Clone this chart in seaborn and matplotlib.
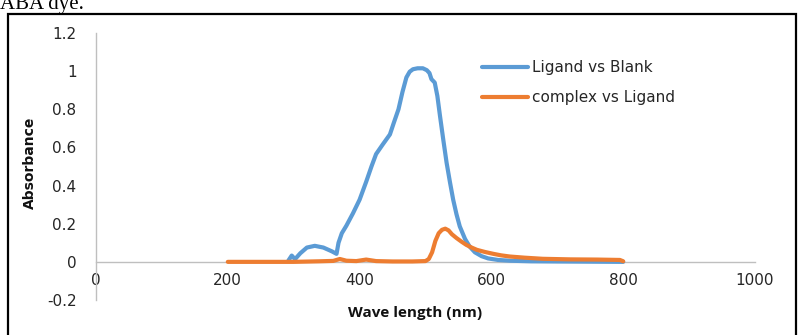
import matplotlib
matplotlib.use("Agg")
import matplotlib.pyplot as plt
import seaborn as sns
import pandas as pd
from matplotlib.patches import Rectangle

# ---- data ----
ligand_x = [292, 297, 302, 310, 320, 332, 345, 358, 365, 368, 373, 380, 390, 400, 410, 418, 425, 435, 446, 452,
            459, 465, 471, 476, 481, 488, 496, 502, 506, 509, 514, 518, 522, 527, 532, 537, 542, 547, 552, 560,
            567, 575, 585, 595, 610, 628, 660, 700, 750, 800]
ligand_y = [0.007, 0.033, 0.014, 0.045, 0.075, 0.084, 0.075, 0.055, 0.042, 0.10, 0.15, 0.19, 0.255, 0.326, 0.42,
            0.50, 0.565, 0.615, 0.668, 0.73, 0.80, 0.89, 0.967, 0.997, 1.01, 1.015, 1.015, 1.005, 0.99, 0.958,
            0.94, 0.87, 0.765, 0.64, 0.52, 0.42, 0.326, 0.25, 0.186, 0.12, 0.08, 0.05, 0.03, 0.018, 0.01,
            0.006, 0.003, 0.002, 0.001, 0.0]

complex_x = [200, 250, 300, 340, 360, 370, 380, 395, 410, 425, 450, 480, 500, 505, 510, 515, 520, 525, 530,
             535, 540, 547, 555, 562, 570, 578, 590, 603, 615, 628, 650, 678, 720, 760, 795, 800]
complex_y = [0.0, 0.0, 0.0, 0.003, 0.005, 0.015, 0.006, 0.004, 0.012, 0.004, 0.002, 0.002, 0.004, 0.015, 0.05,
             0.11, 0.15, 0.168, 0.174, 0.165, 0.145, 0.125, 0.105, 0.089, 0.075, 0.063, 0.052, 0.042, 0.034,
             0.028, 0.022, 0.016, 0.013, 0.012, 0.01, 0.003]

series_names = ["Ligand vs Blank", "complex vs Ligand"]
x_ticks = [0, 200, 400, 600, 800, 1000]
y_ticks = [-0.2, 0, 0.2, 0.4, 0.6, 0.8, 1, 1.2]
y_tick_labels = ["-0.2", "0", "0.2", "0.4", "0.6", "0.8", "1", "1.2"]

df = pd.concat([
    pd.DataFrame({"x": ligand_x, "y": ligand_y, "series": series_names[0]}),
    pd.DataFrame({"x": complex_x, "y": complex_y, "series": series_names[1]}),
], ignore_index=True)

sns.set_theme(style="white")
plt.rcParams["font.family"] = ["DejaVu Sans"]

W, H = 798, 335
fig = plt.figure(figsize=(W / 100, H / 100), dpi=100)
ax = fig.add_axes([96 / W, 35 / H, (755 - 96) / W, (300 - 33) / H])

palette = {series_names[0]: "#5B9BD5", series_names[1]: "#ED7D31"}
sns.lineplot(data=df, x="x", y="y", hue="series", palette=palette, linewidth=3.0,
             sort=False, estimator=None, ax=ax, legend=True)
for ln in ax.get_lines():
    ln.set_solid_joinstyle("round")
    ln.set_solid_capstyle("round")

ax.set_xlim(0, 1000)
ax.set_ylim(-0.2, 1.2)
ax.set_xticks(x_ticks)
ax.set_xticklabels([str(t) for t in x_ticks])
ax.set_yticks(y_ticks)
ax.set_yticklabels(y_tick_labels)

grey = "#BFBFBF"
for s in ["top", "right"]:
    ax.spines[s].set_visible(False)
ax.spines["left"].set_color(grey)
ax.spines["left"].set_linewidth(1)
ax.spines["bottom"].set_position(("data", 0))
ax.spines["bottom"].set_color(grey)
ax.spines["bottom"].set_linewidth(1)
ax.spines["bottom"].set_zorder(0)

ax.tick_params(axis="x", length=0, pad=8, labelsize=11, colors="#262626")
ax.tick_params(axis="y", length=0, pad=14, labelsize=11, colors="#262626")
ax.grid(False)

ax.set_xlabel("")
ax.set_ylabel("")
fig.text(415 / W, 1 - 313 / H, "Wave length (nm)", ha="center", va="center",
         fontsize=11, fontweight="bold", color="#111111",
         family=["Open Sans", "DejaVu Sans"])
fig.text(30 / W, 1 - 163 / H, "Absorbance", ha="center", va="center", rotation=90,
         fontsize=10, fontweight="bold", color="#111111")

leg = ax.legend(loc="center left", bbox_to_anchor=(482 / W, 1 - 82.5 / H),
                bbox_transform=fig.transFigure, frameon=False,
                fontsize=11, handlelength=3.0, handletextpad=0.25, labelspacing=1.0,
                borderaxespad=0, borderpad=0)
for line in leg.get_lines():
    line.set_linewidth(3.0)

# page frame and cut-off caption
fig.add_artist(Rectangle((8 / W, -0.1), (796 - 8) / W, (0.1 + 1 - 14 / H), transform=fig.transFigure,
                         fill=False, edgecolor="black", linewidth=1.6))
fig.text(0 / W, 1 - 9 / H, "ABA dye.", ha="left", va="baseline", fontsize=15,
         family=["Liberation Serif", "DejaVu Serif"], color="black")

fig.savefig("out.png", dpi=100)
